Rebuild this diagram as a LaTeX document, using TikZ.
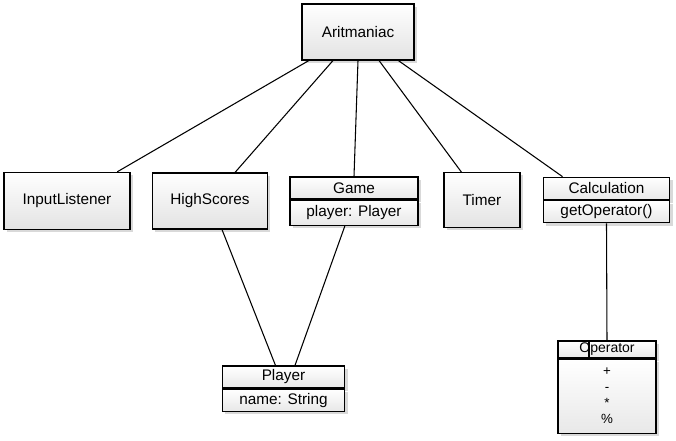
\documentclass[tikz,border=0pt]{standalone}
\usepackage{fontspec}
\setmainfont{Liberation Sans}
\usetikzlibrary{positioning,shadows}

\begin{document}
\begin{tikzpicture}[x=0.75pt,y=-0.75pt,
    box/.style={rectangle, draw, thick, top color=white, bottom color=gray!22, drop shadow={opacity=0.3, shadow xshift=2pt, shadow yshift=-2pt}, text centered, inner sep=0pt, font=\fontsize{11.5}{13}\selectfont},
    part/.style={rectangle, draw, thick, top color=white, bottom color=gray!18, drop shadow={opacity=0.3, shadow xshift=2pt, shadow yshift=-2pt}, text centered, inner sep=0pt, font=\fontsize{11.5}{13}\selectfont},
    link/.style={thick}
]
\useasboundingbox (0,0) rectangle (676,440);

% Main class
\node[box, minimum width=84pt, minimum height=42pt] (arit) at (358,32) {Aritmaniac};

% Second row
\node[box, minimum width=94.5pt, minimum height=43pt] (input) at (67,201) {InputListener};
\node[box, minimum width=86pt, minimum height=42pt] (high) at (210,201) {HighScores};
\node[part, minimum width=96pt, minimum height=16.5pt] (game) at (354,188) {Game};
\node[part, minimum width=96pt, minimum height=18.75pt, below=0pt of game] (gameattr) {player: Player};
\node[box, minimum width=57pt, minimum height=41pt] (timer) at (482,200) {Timer};
\node[part, minimum width=95pt, minimum height=17pt] (calc) at (606.5,188.5) {Calculation};
\node[part, minimum width=95pt, minimum height=16.5pt, below=0pt of calc] (calcattr) {getOperator()};

% Bottom row
\node[part, minimum width=92pt, minimum height=16.5pt] (player) at (283.5,377) {Player};
\node[part, minimum width=92pt, minimum height=16.5pt, below=0pt of player] (playerattr) {name: String};
\node[part, minimum width=73.5pt, minimum height=12.75pt, font=\fontsize{10.5}{12}\selectfont] (oper) at (607,349.5) {Operator};
\node[part, minimum width=73.5pt, minimum height=55.5pt, below=0pt of oper, align=center, font=\fontsize{10}{11}\selectfont] (operitems) {+\\[1pt]-\\[1pt]*\\[1pt]\%};
\draw[thick] ([xshift=-13.5pt]oper.north) -- ([xshift=-13.5pt]oper.south);

% Links
\draw[link] (arit) -- (input);
\draw[link] (arit) -- (high);
\draw[link] (arit.south) -- (game.north);
\draw[link] (arit) -- (timer);
\draw[link] (arit) -- ([xshift=-33pt]calc.north);
\draw[link] ([xshift=9pt]high.south) -- ([xshift=-6pt]player.north);
\draw[link] ([xshift=-6.75pt]gameattr.south) -- ([xshift=8.6pt]player.north);
\draw[link] (calcattr.south) -- (oper.north);

\end{tikzpicture}
\end{document}
